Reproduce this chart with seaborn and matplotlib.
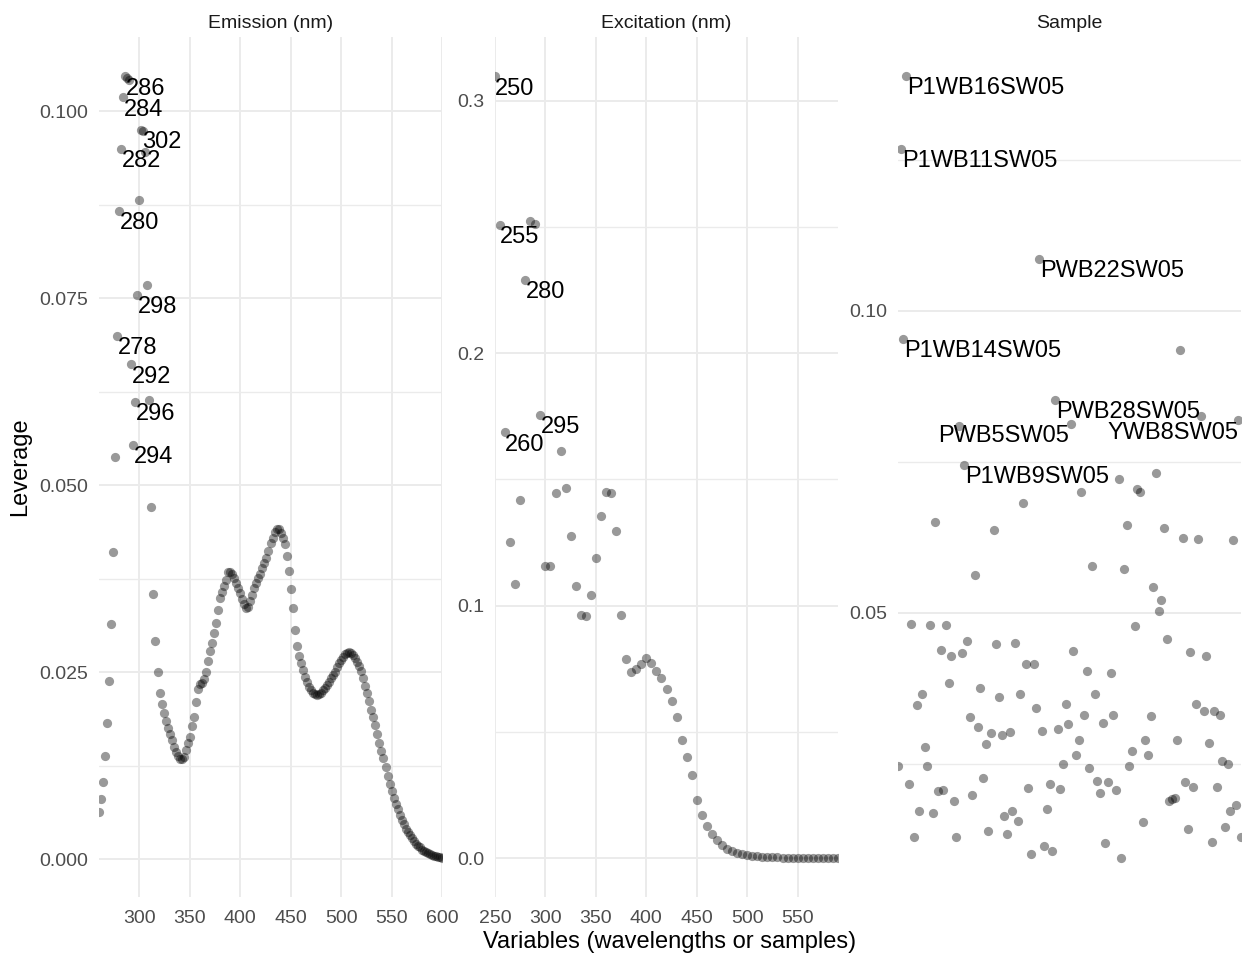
import matplotlib
matplotlib.use("Agg")
import matplotlib.pyplot as plt
import seaborn as sns
from matplotlib.ticker import MultipleLocator, FormatStrFormatter

# ---- Emission leverage (nm, every 2 nm) ----
em_wavelength = list(range(260, 601, 2))
em_leverage = [
    0.0064, 0.0081, 0.0104, 0.0138, 0.0182, 0.0239, 0.0314, 0.0411, 0.0538, 0.0700,  # 260-278
    0.0867, 0.0950, 0.1019, 0.1047, 0.1045, 0.1042, 0.0662, 0.0554, 0.0612, 0.0755,  # 280-298
    0.0882, 0.0975, 0.0973, 0.0945, 0.0768, 0.0614, 0.0471, 0.0355, 0.0292, 0.0250,  # 300-318
    0.0223, 0.0208, 0.0196, 0.0185, 0.0176, 0.0168, 0.0159, 0.0150, 0.0143, 0.0138,  # 320-338
    0.0134, 0.0134, 0.0137, 0.0146, 0.0155, 0.0164, 0.0178, 0.0190, 0.0210, 0.0228,  # 340-358
    0.0234, 0.0236, 0.0241, 0.0251, 0.0265, 0.0278, 0.0289, 0.0302, 0.0316, 0.0334,  # 360-378
    0.0350, 0.0358, 0.0365, 0.0373, 0.0384, 0.0384, 0.0381, 0.0376, 0.0370, 0.0363,  # 380-398
    0.0356, 0.0348, 0.0341, 0.0336, 0.0338, 0.0345, 0.0354, 0.0363, 0.0370, 0.0376,  # 400-418
    0.0382, 0.0389, 0.0396, 0.0403, 0.0412, 0.0423, 0.0430, 0.0437, 0.0441, 0.0441,  # 420-438
    0.0436, 0.0430, 0.0422, 0.0405, 0.0385, 0.0362, 0.0336, 0.0306, 0.0285, 0.0272,  # 440-458
    0.0262, 0.0253, 0.0244, 0.0237, 0.0231, 0.0227, 0.0223, 0.0221, 0.0220, 0.0221,  # 460-478
    0.0223, 0.0226, 0.0229, 0.0233, 0.0237, 0.0242, 0.0246, 0.0251, 0.0257, 0.0262,  # 480-498
    0.0267, 0.0271, 0.0274, 0.0276, 0.0277, 0.0276, 0.0273, 0.0269, 0.0264, 0.0258,  # 500-518
    0.0252, 0.0242, 0.0232, 0.0222, 0.0212, 0.0200, 0.0190, 0.0179, 0.0168, 0.0156,  # 520-538
    0.0145, 0.0135, 0.0124, 0.0112, 0.0101, 0.0091, 0.0082, 0.0074, 0.0067, 0.0060,  # 540-558
    0.0053, 0.0047, 0.0041, 0.0036, 0.0032, 0.0028, 0.0024, 0.0021, 0.0018, 0.0016,  # 560-578
    0.0013, 0.0011, 0.0010, 0.0008, 0.0007, 0.0006, 0.0005, 0.0004, 0.0003, 0.0003,  # 580-598
    0.0002,                                                                          # 600
]
em_labelled = [286, 284, 302, 282, 280, 298, 278, 292, 296, 294]

# ---- Excitation leverage (nm, every 5 nm) ----
ex_wavelength = list(range(250, 591, 5))
ex_leverage = [
    0.3098, 0.2510, 0.1687, 0.1252, 0.1086, 0.1418, 0.2292, 0.2522, 0.2512, 0.1756,  # 250-295
    0.1157, 0.1157, 0.1446, 0.1612, 0.1468, 0.1276, 0.1079, 0.0963, 0.0960, 0.1043,  # 300-345
    0.1190, 0.1356, 0.1449, 0.1446, 0.1294, 0.0963, 0.0790, 0.0739, 0.0748, 0.0768,  # 350-395
    0.0791, 0.0774, 0.0741, 0.0712, 0.0672, 0.0623, 0.0561, 0.0467, 0.0401, 0.0328,  # 400-445
    0.0231, 0.0171, 0.0128, 0.0095, 0.0071, 0.0053, 0.0038, 0.0029, 0.0022, 0.0016,  # 450-495
    0.0012, 0.0009, 0.0007, 0.0005, 0.0004, 0.0003, 0.0003, 0.0002, 0.0002, 0.0002,  # 500-545
    0.0001, 0.0001, 0.0001, 0.0001, 0.0001, 0.0001, 0.0001, 0.0001, 0.0001,          # 550-590
]
ex_labelled = [250, 255, 280, 295, 260]

# ---- Sample leverage (in sample order) ----
sample_leverage = [
    0.0247, 0.1268, 0.0954, 0.1389, 0.0216, 0.0482, 0.0128, 0.0347, 0.0171, 0.0365,
    0.0278, 0.0246, 0.0479, 0.0168, 0.0651, 0.0205, 0.0439, 0.0206, 0.0479, 0.0384,
    0.0429, 0.0189, 0.0128, 0.0810, 0.0433, 0.0744, 0.0454, 0.0328, 0.0198, 0.0562,
    0.0311, 0.0376, 0.0226, 0.0283, 0.0139, 0.0301, 0.0637, 0.0448, 0.0361, 0.0297,
    0.0164, 0.0134, 0.0302, 0.0172, 0.0450, 0.0155, 0.0366, 0.0682, 0.0415, 0.0210,
    0.0100, 0.0415, 0.0342, 0.1086, 0.0305, 0.0113, 0.0175, 0.0217, 0.0105, 0.0852,
    0.0307, 0.0208, 0.0250, 0.0349, 0.0316, 0.0812, 0.0436, 0.0265, 0.0290, 0.0700,
    0.0330, 0.0403, 0.0243, 0.0578, 0.0365, 0.0222, 0.0202, 0.0318, 0.0118, 0.0220,
    0.0400, 0.0331, 0.0207, 0.0722, 0.0094, 0.0572, 0.0645, 0.0246, 0.0271, 0.0478,
    0.0705, 0.0700, 0.0154, 0.0290, 0.0264, 0.0329, 0.0542, 0.0732, 0.0503, 0.0522,
    0.0641, 0.0457, 0.0189, 0.0191, 0.0193, 0.0290, 0.0936, 0.0624, 0.0219, 0.0142,
    0.0435, 0.0212, 0.0349, 0.0622, 0.0826, 0.0337, 0.0429, 0.0285, 0.0120, 0.0338,
    0.0211, 0.0330, 0.0254, 0.0146, 0.0250, 0.0172, 0.0621, 0.0182, 0.0819, 0.0128,
]
sample_index = list(range(len(sample_leverage)))
sample_names = {
    3: "P1WB16SW05", 1: "P1WB11SW05", 53: "PWB22SW05", 2: "P1WB14SW05",
    59: "PWB28SW05", 23: "PWB5SW05", 128: "YWB8SW05", 25: "P1WB9SW05",
}

# ---- styling ----
sns.set_theme(style="white")
plt.rcParams["font.family"] = ["Liberation Sans", "DejaVu Sans"]

W, H = 1243, 959
fig = plt.figure(figsize=(W / 100, H / 100), dpi=100)

GRID = "#EBEBEB"
TICK_COL = "#4D4D4D"
PT_KW = dict(color="black", alpha=0.4, s=44, linewidth=0, zorder=3)


def panel(left):
    top, width, height = 37, 343, 860
    ax = fig.add_axes([left / W, 1 - (top + height) / H, width / W, height / H])
    for sp in ax.spines.values():
        sp.set_visible(False)
    ax.set_axisbelow(True)
    ax.tick_params(axis="both", which="both", length=0, labelsize=14,
                   labelcolor=TICK_COL)
    ax.tick_params(axis="y", pad=8)
    ax.tick_params(axis="x", pad=9.5)
    return ax


def strip(ax, title):
    ax.text(0.5, 1 + 14 / 860, title, transform=ax.transAxes, ha="center",
            va="center", fontsize=14, color="#1A1A1A")


def finish(ax, ymajor, yfmt, xmajor=None):
    ax.margins(x=0, y=0.05)
    ax.set_xlabel("")
    ax.set_ylabel("")
    ax.yaxis.set_major_locator(MultipleLocator(ymajor))
    ax.yaxis.set_minor_locator(MultipleLocator(ymajor / 2))
    ax.yaxis.set_major_formatter(FormatStrFormatter(yfmt))
    ax.grid(True, which="major", axis="y", color=GRID, linewidth=1.4)
    ax.grid(True, which="minor", axis="y", color=GRID, linewidth=1.0)
    if xmajor is not None:
        ax.xaxis.set_major_locator(MultipleLocator(xmajor))
        ax.grid(True, which="major", axis="x", color=GRID, linewidth=1.4)
    else:
        ax.set_xticks([])


LABEL_KW = dict(textcoords="offset pixels", va="center", fontsize=17,
                color="black", zorder=4)

# Emission panel
ax1 = panel(99)
sns.scatterplot(x=em_wavelength, y=em_leverage, ax=ax1, **PT_KW)
finish(ax1, 0.025, "%.3f", 50)
for wl in em_labelled:
    i = em_wavelength.index(wl)
    ax1.annotate(str(wl), (wl, em_leverage[i]), xytext=(20, -12.5), ha="center",
                 **LABEL_KW)
strip(ax1, "Emission (nm)")

# Excitation panel
ax2 = panel(495)
sns.scatterplot(x=ex_wavelength, y=ex_leverage, ax=ax2, **PT_KW)
finish(ax2, 0.1, "%.1f", 50)
for wl in ex_labelled:
    i = ex_wavelength.index(wl)
    ax2.annotate(str(wl), (wl, ex_leverage[i]), xytext=(20, -12.5), ha="center",
                 **LABEL_KW)
strip(ax2, "Excitation (nm)")

# Sample panel
ax3 = panel(898)
sns.scatterplot(x=sample_index, y=sample_leverage, ax=ax3, **PT_KW)
finish(ax3, 0.05, "%.2f")
label_offsets = {23: (-21, -10.5, "left"), 128: (0, -12.5, "right")}
for idx, name in sample_names.items():
    dx, dy, ha = label_offsets.get(idx, (1, -12, "left"))
    ax3.annotate(name, (idx, sample_leverage[idx]), xytext=(dx, dy), ha=ha,
                 **LABEL_KW)
strip(ax3, "Sample")

# shared axis titles
fig.text(670 / W, 1 - 942 / H, "Variables (wavelengths or samples)",
         ha="center", va="center", fontsize=17, color="black")
fig.text(20 / W, 1 - 467 / H, "Leverage", rotation=90, ha="center",
         va="center", fontsize=17, color="black")

fig.savefig("out.png", dpi=100)
